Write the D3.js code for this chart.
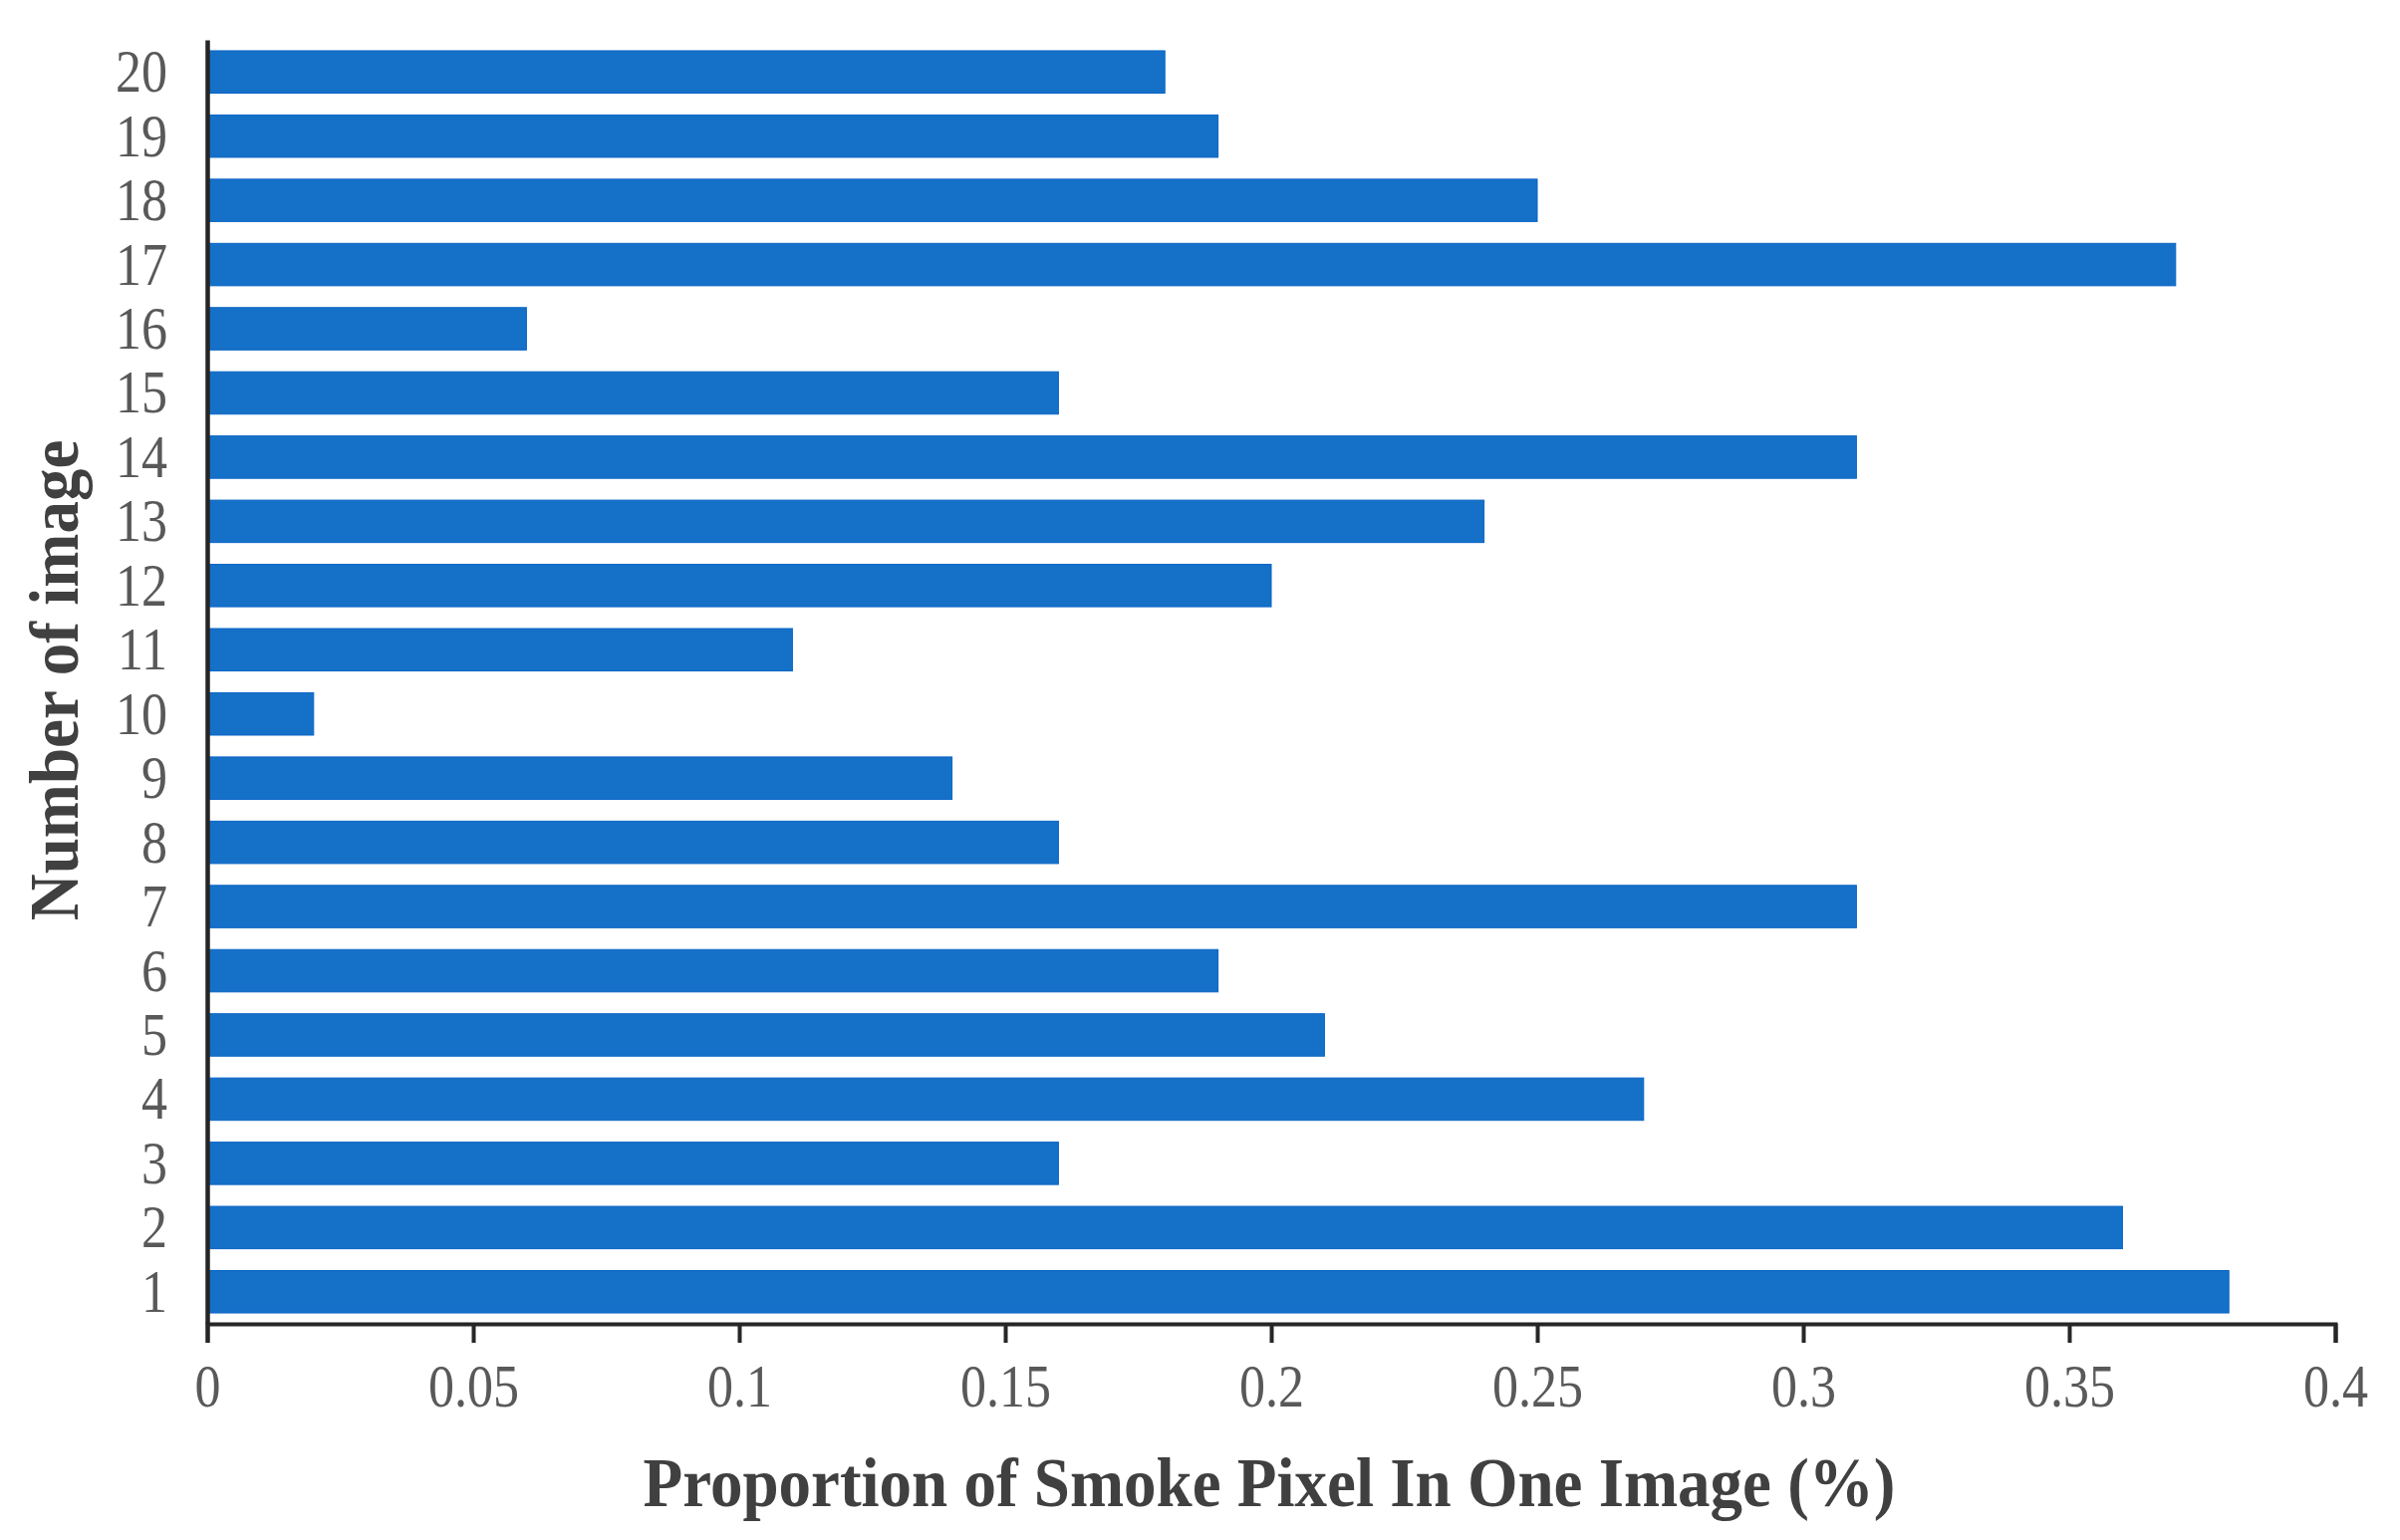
<!DOCTYPE html>
<html>
<head>
<meta charset="utf-8">
<script src="https://cdn.jsdelivr.net/npm/d3@7"></script>
<style>
    body { margin: 0; background: #ffffff; }
    svg { display: block; }
</style>
</head>
<body>
<svg id="chart" width="2409" height="1546"></svg>
<script>
const WIDTH = 2409;
const HEIGHT = 1546;

// data
var images = ["1", "2", "3", "4", "5", "6", "7", "8", "9", "10",
    "11", "12", "13", "14", "15", "16", "17", "18", "19", "20"];
var proportions = [0.38, 0.36, 0.16, 0.27, 0.21, 0.19, 0.31, 0.16, 0.14, 0.02,
    0.11, 0.20, 0.24, 0.31, 0.16, 0.06, 0.37, 0.25, 0.19, 0.18];
var x_ticks = [0, 0.05, 0.1, 0.15, 0.2, 0.25, 0.3, 0.35, 0.4];
var x_tick_labels = ["0", "0.05", "0.1", "0.15", "0.2", "0.25", "0.3", "0.35", "0.4"];

var x_title = "Proportion of Smoke Pixel In One Image (%)";
var y_title = "Number of image";

const BAR_COLOR = "#1570c8";
const TICK_COLOR = "#595959";
const TITLE_COLOR = "#404040";
const AXIS_COLOR = "#262626";
const FONT = "'Liberation Serif', 'Times New Roman', serif";

var margin = { top: 40, right: 65, bottom: 217, left: 208 };

var svg = d3.select("svg#chart");

var x = d3.scaleLinear()
    .domain([0, 0.4])
    .range([margin.left, WIDTH - margin.right]);

var y = d3.scaleBand()
    .domain(images.slice().reverse())
    .range([margin.top, HEIGHT - margin.bottom])
    .paddingInner(0.34)
    .paddingOuter(0.17);

var rows = images.map((d, i) => ({ image: d, value: proportions[i] }));

// bars
svg.append("g")
    .selectAll("rect")
    .data(rows)
    .join("rect")
    .attr("x", x(0))
    .attr("y", d => y(d.image))
    .attr("width", d => x(d.value) - x(0))
    .attr("height", y.bandwidth())
    .attr("fill", BAR_COLOR)
    .style("stroke", "#0b65c5")
    .style("stroke-width", 1);

// x axis
var x_axis = svg.append("g")
    .attr("transform", "translate(0," + (HEIGHT - margin.bottom) + ")")
    .call(d3.axisBottom(x)
        .tickValues(x_ticks)
        .tickFormat((d, i) => x_tick_labels[i])
        .tickSizeOuter(0)
        .tickSize(19));

x_axis.select(".domain")
    .attr("stroke", AXIS_COLOR)
    .attr("stroke-width", 4);
x_axis.selectAll(".tick line")
    .attr("stroke", AXIS_COLOR)
    .attr("stroke-width", 4);
x_axis.selectAll(".tick text")
    .attr("y", 0)
    .attr("dy", 0)
    .attr("transform", "translate(0,83) scale(1,1.16)")
    .attr("fill", TICK_COLOR)
    .style("font-family", FONT)
    .style("font-size", "52px");

// y axis
var y_axis = svg.append("g")
    .attr("transform", "translate(" + margin.left + ",0)")
    .call(d3.axisLeft(y)
        .tickSizeOuter(0)
        .tickSize(0)
        .tickPadding(40));

y_axis.select(".domain")
    .attr("stroke", AXIS_COLOR)
    .attr("stroke-width", 4.5);
y_axis.selectAll(".tick text")
    .attr("dy", 0)
    .attr("transform", "translate(0,20) scale(1,1.16)")
    .attr("fill", TICK_COLOR)
    .style("font-family", FONT)
    .style("font-size", "52px");

// axis titles
svg.append("text")
    .attr("transform", "translate(" + 1274 + "," + 1512 + ") scale(1,1.07)")
    .attr("text-anchor", "middle")
    .attr("fill", TITLE_COLOR)
    .style("font-family", FONT)
    .style("font-weight", "bold")
    .style("font-size", "65px")
    .text(x_title);

svg.append("text")
    .attr("transform", "translate(78," + 683 + ") rotate(-90) scale(1,1.07)")
    .attr("text-anchor", "middle")
    .attr("fill", TITLE_COLOR)
    .style("font-family", FONT)
    .style("font-weight", "bold")
    .style("font-size", "65px")
    .text(y_title);
</script>
</body>
</html>
